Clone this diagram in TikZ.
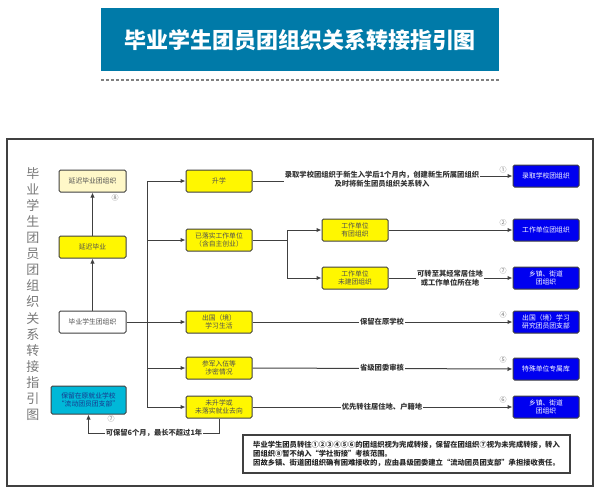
\documentclass[tikz,border=0pt]{standalone}
\usepackage{fontspec}
\setmainfont{Noto Sans CJK SC}
\usetikzlibrary{arrows.meta}
\definecolor{banner}{RGB}{0,122,168}
\definecolor{linec}{RGB}{64,64,64}
\definecolor{yel}{RGB}{255,247,0}
\definecolor{lyel}{RGB}{255,248,200}
\definecolor{blu}{RGB}{0,0,240}
\definecolor{cyanbox}{RGB}{0,184,216}
\definecolor{txtg}{RGB}{80,80,80}
\definecolor{numg}{RGB}{120,120,120}
\definecolor{darkblue}{RGB}{25,55,140}
\tikzset{
  box/.style={draw=linec, line width=1pt, rounded corners=1.5pt, minimum width=66pt,
    minimum height=22pt, inner sep=1pt, align=center, font=\fontsize{6.8}{8.2}\selectfont},
  ybox/.style={box, fill=yel, text=txtg},
  bbox/.style={box, fill=blu, text=white},
  conn/.style={draw=linec, line width=1pt},
  arr/.style={conn, -{Latex[length=5pt,width=4.5pt]}},
  lbl/.style={fill=white, inner sep=1pt, align=center, text=black!80,
    font=\fontsize{7.3}{8.6}\selectfont\bfseries},
  num/.style={inner sep=0pt, text=numg, font=\fontsize{7}{8}\selectfont}
}
\begin{document}
\begin{tikzpicture}[x=1pt,y=-1pt]
\useasboundingbox (0,0) rectangle (600,487);
% banner
\fill[banner] (101,8) rectangle (499,71);
\node[text=white, font=\fontsize{22}{25}\selectfont\bfseries] (title) at (300,40) {毕业学生团员团组织关系转接指引图};
\draw[gray, line width=1.2pt, dash pattern=on 3pt off 2pt] (101,80) -- (499,80);
% frame
\draw[linec, line width=1.2pt] (7,139) rectangle (593,486);
% vertical title
\node[text=numg, align=center, font=\fontsize{13}{16.1}\selectfont] (vt) at (33,294)
 {毕\\业\\学\\生\\团\\员\\团\\组\\织\\关\\系\\转\\接\\指\\引\\图};
% left column
\node[box, fill=lyel, text=txtg, minimum width=67pt] (yz) at (92.5,181) {延迟毕业团组织};
\node[ybox, minimum width=67pt] (yb) at (92.5,247) {延迟毕业};
\node[box, fill=white, text=txtg, minimum width=67pt] (gs) at (92.5,322) {毕业学生团组织};
\node[box, fill=cyanbox, text=darkblue, minimum width=75pt, minimum height=28pt] (cy) at (88.5,400) {保留在原就业学校\\“流动团员团支部”};
% middle column
\node[ybox] (sx) at (219,181) {升学};
\node[ybox] (ly) at (219,240) {已落实工作单位\\（含自主创业）};
\node[ybox] (cg) at (219,322) {出国（境）\\学习生活};
\node[ybox] (cj) at (219,368) {参军入伍等\\涉密情况};
\node[ybox] (ws) at (219,407) {未升学或\\未落实就业去向};
\node[ybox] (yt) at (355,230) {工作单位\\有团组织};
\node[ybox] (wt) at (355,278) {工作单位\\未建团组织};
% right column
\node[bbox] (b1) at (546,176) {录取学校团组织};
\node[bbox] (b2) at (546,230) {工作单位团组织};
\node[bbox] (b3) at (546,278) {乡镇、街道\\团组织};
\node[bbox] (b4) at (546,322) {出国（境）学习\\研究团员团支部};
\node[bbox] (b5) at (546,369) {特殊单位专属库};
\node[bbox] (b6) at (546,407) {乡镇、街道\\团组织};
% vertical arrows
\draw[arr] (gs.north) -- (yb.south);
\draw[arr] (yb.north) -- (yz.south);
% trunk
\coordinate (t1) at (147,181);
\coordinate (t5) at (147,407);
\draw[conn] (t1) -- (t5);
\draw[arr] (t1) -- (sx.west);
\draw[arr] (t1 |- ly.west) -- (ly.west);
\draw[arr] (gs.east) -- (cg.west);
\draw[arr] (t1 |- cj.west) -- (cj.west);
\draw[arr] (t5) -- (ws.west);
% branch
\coordinate (br) at (287,240);
\draw[conn] (ly.east) -- (br);
\draw[arr] (br) |- (yt.west);
\draw[arr] (br) |- (wt.west);
% right connectors
\node[lbl, fill=none] (l1) at (382,179) {录取学校团组织于新生入学后1个月内，创建新生所属团组织\\及时将新生团员组织关系转入};
\draw[conn] (sx.east) -- (sx.east -| l1.west);
\draw[arr] (l1.east |- b1.west) -- (b1.west);
\draw[arr] (yt.east) -- (b2.west);
\draw[arr] (wt.east) -- (b3.west);
\draw[arr] (cg.east) -- (b4.west);
\draw[arr] (cj.east) -- (b5.west);
\draw[arr] (ws.east) -- (b6.west);
\node[lbl] (l3) at (450,278) {可转至其经常居住地\\或工作单位所在地};
\node[lbl] (l4) at (382,322) {保留在原学校};
\node[lbl] (l5) at (382,368) {省级团委审核};
\node[lbl] (l6) at (382,407) {优先转往居住地、户籍地};
% bottom connector
\coordinate (bt) at (219,433);
\draw[arr] (ws.south) -- (bt) -| (cy.south);
\node[lbl] (l7) at (154,433) {可保留6个月，最长不超过1年};
% numbers
\node[num] (n1) at (503,170) {①};
\node[num] (n2) at (503,223) {②};
\node[num] (n3) at (503,271) {⑦};
\node[num] (n4) at (503,315) {④};
\node[num] (n5) at (503,360) {⑤};
\node[num] (n6) at (503,400) {⑥};
\node[num] (n8) at (115,198) {⑧};
\node[num] (n7) at (111,419) {⑦};
% note
\node[draw=linec, line width=1.3pt, fill=white, minimum width=327pt, minimum height=38pt,
  align=left, inner sep=3pt, text=black!85, font=\fontsize{7.3}{9.2}\selectfont\bfseries] (note) at (406.5,454)
 {毕业学生团员转往①②③④⑤⑥的团组织视为完成转接，保留在团组织⑦视为未完成转接，转入\\
  团组织⑧暂不纳入“学社衔接”考核范围。\\
  因故乡镇、街道团组织确有困难接收的，应由县级团委建立“流动团员团支部”承担接收责任。};
\end{tikzpicture}
\end{document}
